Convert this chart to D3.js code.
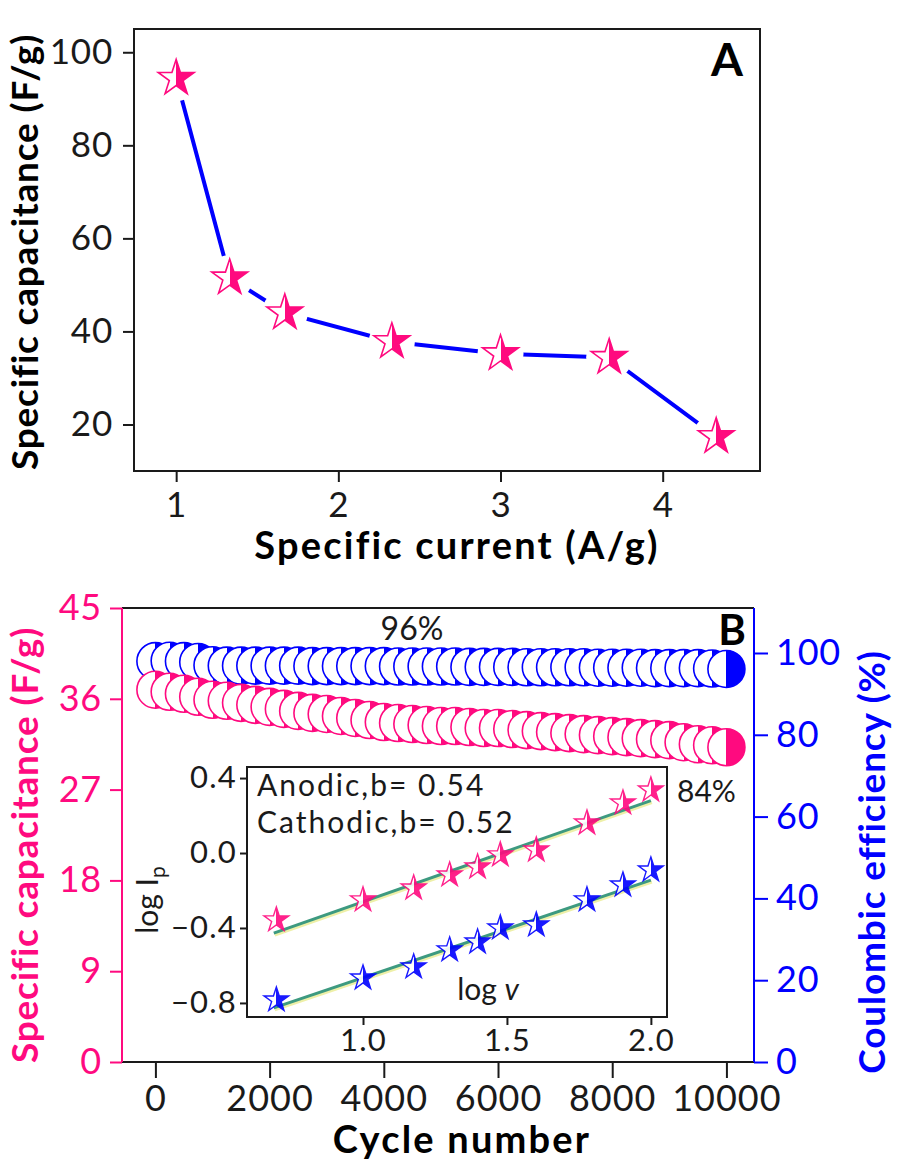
<!DOCTYPE html>
<html>
<head>
<meta charset="utf-8">
<script src="https://cdn.jsdelivr.net/npm/d3@7"></script>
<style>
  body { margin: 0; background: #fff; }
  svg { display: block; font-family: Lato, 'Open Sans', sans-serif; }
</style>
</head>
<body>
<div id="chart"></div>
<script>
// Panel A: rate capability
const rateCurrent = [1, 1.33, 1.67, 2.33, 3, 3.67, 4.33];
const rateCapacitance = [94.4, 51.5, 44, 37.8, 35.2, 34.4, 17.4];
const rateXTicks = [1, 2, 3, 4];
const rateYTicks = [20, 40, 60, 80, 100];

// Panel B: cycling
const cycleNumber = [0, 250, 500, 750, 1000, 1250, 1500, 1750, 2000, 2250, 2500, 2750, 3000, 3250,
  3500, 3750, 4000, 4250, 4500, 4750, 5000, 5250, 5500, 5750, 6000, 6250, 6500, 6750, 7000, 7250,
  7500, 7750, 8000, 8250, 8500, 8750, 9000, 9250, 9500, 9750, 10000];
const cycleCapacitance = [36.9, 36.7, 36.5, 36.2, 35.9, 35.8, 35.6, 35.4, 35.2, 35.0, 34.8, 34.6,
  34.5, 34.3, 34.1, 33.9, 33.7, 33.6, 33.5, 33.4, 33.3, 33.3, 33.2, 33.1, 33.1, 33.0, 32.9, 32.8,
  32.7, 32.6, 32.5, 32.4, 32.3, 32.2, 32.1, 32.0, 31.9, 31.7, 31.5, 31.4, 31.2];
const coulombicEff = [98.0, 98.1, 98.0, 97.8, 97.0, 96.9, 96.9, 96.9, 96.9, 96.9, 96.9, 96.8,
  96.8, 96.8, 96.8, 96.8, 96.8, 96.7, 96.7, 96.7, 96.7, 96.7, 96.6, 96.6, 96.6, 96.6, 96.5, 96.5,
  96.5, 96.5, 96.5, 96.4, 96.4, 96.4, 96.4, 96.3, 96.3, 96.3, 96.3, 96.2, 96.1];
const cycleXTicks = [0, 2000, 4000, 6000, 8000, 10000];
const capYTicks = [0, 9, 18, 27, 36, 45];
const ceYTicks = [0, 20, 40, 60, 80, 100];

// Inset: log Ip vs log v
const logScanRate = [0.699, 1.0, 1.176, 1.301, 1.398, 1.477, 1.602, 1.778, 1.903, 2.0];
const logIAnodic = [-0.357, -0.25, -0.187, -0.117, -0.075, -0.01, 0.016, 0.16, 0.267, 0.336];
const logICathodic = [-0.784, -0.667, -0.608, -0.517, -0.475, -0.40, -0.384, -0.25, -0.171, -0.091];
const fitX = [0.69, 2.0];
const fitAnodic = [-0.427, 0.28];
const fitCathodic = [-0.826, -0.145];
const insetXTicks = [1.0, 1.5, 2.0];
const insetYTicks = [-0.8, -0.4, 0.0, 0.4];

const pink = '#ff0a7f';
const blue = '#0000ff';
const ink = '#1a1a1a';

const svg = d3.select('#chart')
              .append('svg')
              .attr('width', 900)
              .attr('height', 1171);

// half outline / half filled markers
const defs = svg.append('defs');
function halfFill(id, color) {
  let g = defs.append('linearGradient')
              .attr('id', id)
              .attr('x1', 0).attr('x2', 1).attr('y1', 0).attr('y2', 0);
  g.append('stop').attr('offset', '50%').attr('stop-color', '#fff');
  g.append('stop').attr('offset', '50%').attr('stop-color', color);
}
halfFill('halfPink', pink);
halfFill('halfBlue', blue);

const star = (size) => d3.symbol(d3.symbolStar, size)();

function styleAxis(g, color, fontSize, spacing) {
  g.selectAll('.domain').remove();
  g.selectAll('.tick line').attr('stroke', color).attr('stroke-width', 2);
  g.selectAll('.tick text')
   .attr('fill', color)
   .attr('font-size', fontSize)
   .attr('letter-spacing', spacing || 0)
   .attr('font-family', 'Lato, sans-serif');
}

function title(x, y, rotate, color, str) {
  let t = svg.append('text')
             .attr('text-anchor', 'middle')
             .attr('font-size', rotate ? 37 : 38)
             .attr('font-weight', 'bold')
             .attr('fill', color)
             .text(str);
  if (rotate) {
    t.attr('transform', `translate(${x},${y}) rotate(-90)`)
     .attr('letter-spacing', 0.8);
  } else {
    t.attr('x', x).attr('y', y)
     .attr('letter-spacing', 2.2);
  }
}

// ---------- Panel A ----------
const xA = d3.scaleLinear().domain([0.74, 4.6]).range([134, 760]);
const yA = d3.scaleLinear().domain([10, 105]).range([471, 29]);

svg.append('g')
   .attr('transform', 'translate(0,471)')
   .call(d3.axisBottom(xA).tickValues(rateXTicks).tickSize(11).tickPadding(10).tickFormat(d3.format('d')))
   .call(g => styleAxis(g, ink, 35, 0.8));

svg.append('g')
   .attr('transform', 'translate(134,0)')
   .call(d3.axisLeft(yA).tickValues(rateYTicks).tickSize(11).tickPadding(10))
   .call(g => styleAxis(g, ink, 35, 0.8));

svg.append('rect')
   .attr('x', 134).attr('y', 29)
   .attr('width', 626).attr('height', 442)
   .attr('fill', 'none')
   .attr('stroke', ink)
   .attr('stroke-width', 2);

svg.append('path')
   .datum(rateCurrent.map((c, i) => [c, rateCapacitance[i]]))
   .attr('d', d3.line().x(d => xA(d[0])).y(d => yA(d[1])))
   .attr('fill', 'none')
   .attr('stroke', blue)
   .attr('stroke-width', 4);

// white gap around each star
svg.append('g')
   .selectAll('circle')
   .data(rateCurrent)
   .enter()
   .append('circle')
   .attr('cx', d => xA(d))
   .attr('cy', (d, i) => yA(rateCapacitance[i]))
   .attr('r', 23)
   .attr('fill', '#fff');

svg.append('g')
   .selectAll('path')
   .data(rateCurrent)
   .enter()
   .append('path')
   .attr('d', star(400))
   .attr('transform', (d, i) => `translate(${xA(d)},${yA(rateCapacitance[i])})`)
   .attr('fill', 'url(#halfPink)')
   .attr('stroke', pink)
   .attr('stroke-width', 1.6);

svg.append('text')
   .attr('x', 727).attr('y', 76)
   .attr('text-anchor', 'middle')
   .attr('font-size', 46).attr('font-weight', 'bold')
   .attr('fill', '#000')
   .text('A');

title(457, 559, false, '#000', 'Specific current (A/g)');
title(38, 252, true, '#000', 'Specific capacitance (F/g)');

// ---------- Panel B ----------
const xB = d3.scaleLinear().domain([-585, 10483]).range([122, 754]);
const yCap = d3.scaleLinear().domain([0, 45]).range([1062, 608]);
const yCE = d3.scaleLinear().domain([0, 111]).range([1062, 608]);

svg.append('g')
   .attr('transform', 'translate(0,1062)')
   .call(d3.axisBottom(xB).tickValues(cycleXTicks).tickSize(16).tickPadding(7).tickFormat(d3.format('d')))
   .call(g => styleAxis(g, ink, 36, 1));

svg.append('g')
   .attr('transform', 'translate(122,0)')
   .call(d3.axisLeft(yCap).tickValues(capYTicks).tickSize(12).tickPadding(8))
   .call(g => styleAxis(g, pink, 36, 0.8));

svg.append('g')
   .attr('transform', 'translate(754,0)')
   .call(d3.axisRight(yCE).tickValues(ceYTicks).tickSize(14).tickPadding(8))
   .call(g => styleAxis(g, blue, 36, 0.8));

svg.append('line').attr('x1', 122).attr('x2', 754).attr('y1', 608).attr('y2', 608)
   .attr('stroke', ink).attr('stroke-width', 2);
svg.append('line').attr('x1', 122).attr('x2', 754).attr('y1', 1062).attr('y2', 1062)
   .attr('stroke', ink).attr('stroke-width', 2);
svg.append('line').attr('x1', 122).attr('x2', 122).attr('y1', 608).attr('y2', 1062)
   .attr('stroke', pink).attr('stroke-width', 2);
svg.append('line').attr('x1', 754).attr('x2', 754).attr('y1', 608).attr('y2', 1062)
   .attr('stroke', blue).attr('stroke-width', 2);

function cycleSeries(values, yScale, color, grad) {
  svg.append('g')
     .selectAll('circle')
     .data(cycleNumber)
     .enter()
     .append('circle')
     .attr('cx', d => xB(d))
     .attr('cy', (d, i) => yScale(values[i]))
     .attr('r', 18.5)
     .attr('fill', `url(#${grad})`)
     .attr('stroke', color)
     .attr('stroke-width', 1.6);
}
cycleSeries(coulombicEff, yCE, blue, 'halfBlue');
cycleSeries(cycleCapacitance, yCap, pink, 'halfPink');

svg.append('text')
   .attr('x', 412).attr('y', 640)
   .attr('text-anchor', 'middle')
   .attr('font-size', 32)
   .attr('fill', ink)
   .text('96%');

svg.append('text')
   .attr('x', 677).attr('y', 802)
   .attr('font-size', 30)
   .attr('fill', ink)
   .text('84%');

svg.append('text')
   .attr('x', 746).attr('y', 645)
   .attr('text-anchor', 'end')
   .attr('font-size', 42).attr('font-weight', 'bold')
   .attr('fill', '#000')
   .text('B');

title(462, 1153, false, '#000', 'Cycle number');
title(38, 845, true, pink, 'Specific capacitance (F/g)');
title(885, 862, true, blue, 'Coulombic efficiency (%)');

// ---------- Inset ----------
const xI = d3.scaleLinear().domain([0.597, 2.056]).range([247, 667]);
const yI = d3.scaleLinear().domain([-0.875, 0.459]).range([1017, 767]);

svg.append('rect')
   .attr('x', 247).attr('y', 767)
   .attr('width', 420).attr('height', 250)
   .attr('fill', '#fff')
   .attr('stroke', ink)
   .attr('stroke-width', 2);

svg.append('g')
   .attr('transform', 'translate(247,0)')
   .call(d3.axisLeft(yI).tickValues(insetYTicks).tickSize(7).tickPadding(3).tickFormat(d3.format('.1f')))
   .call(g => styleAxis(g, ink, 31, 1.2));

svg.append('g')
   .attr('transform', 'translate(0,1017)')
   .call(d3.axisBottom(xI).tickValues(insetXTicks).tickSize(8).tickPadding(4).tickFormat(d3.format('.1f')))
   .call(g => styleAxis(g, ink, 31, 1.2));

const fitLine = d3.line().x(d => xI(d[0])).y(d => yI(d[1]));
[fitAnodic, fitCathodic].forEach(fit => {
  let pts = fitX.map((x, i) => [x, fit[i]]);
  svg.append('path')
     .datum(pts)
     .attr('d', fitLine)
     .attr('transform', 'translate(1,2)')
     .attr('fill', 'none')
     .attr('stroke', '#eef0a8')
     .attr('stroke-width', 3);
  svg.append('path')
     .datum(pts)
     .attr('d', fitLine)
     .attr('fill', 'none')
     .attr('stroke', '#3d9a80')
     .attr('stroke-width', 3);
});

function insetStars(values, color, grad) {
  svg.append('g')
     .selectAll('path')
     .data(logScanRate)
     .enter()
     .append('path')
     .attr('d', star(190))
     .attr('transform', (d, i) => `translate(${xI(d)},${yI(values[i])})`)
     .attr('fill', `url(#${grad})`)
     .attr('stroke', color)
     .attr('stroke-width', 1.4)
     .attr('opacity', 0.9);
}
insetStars(logIAnodic, pink, 'halfPink');
insetStars(logICathodic, blue, 'halfBlue');

svg.append('text')
   .attr('x', 257).attr('y', 796)
   .attr('font-size', 30)
   .attr('letter-spacing', 2)
   .attr('fill', ink)
   .text('Anodic,b= 0.54');

svg.append('text')
   .attr('x', 257).attr('y', 833)
   .attr('font-size', 30)
   .attr('letter-spacing', 2)
   .attr('fill', ink)
   .text('Cathodic,b= 0.52');

let logv = svg.append('text')
   .attr('x', 488).attr('y', 1000)
   .attr('text-anchor', 'middle')
   .attr('font-size', 30)
   .attr('fill', ink);
logv.append('tspan').text('log ');
logv.append('tspan').attr('font-style', 'italic').text('v');

let logI = svg.append('text')
   .attr('transform', 'translate(158,900) rotate(-90)')
   .attr('text-anchor', 'middle')
   .attr('font-size', 30)
   .attr('fill', ink);
logI.append('tspan').text('log I');
logI.append('tspan').attr('font-size', 21).attr('dy', 7).text('p');
</script>
</body>
</html>
